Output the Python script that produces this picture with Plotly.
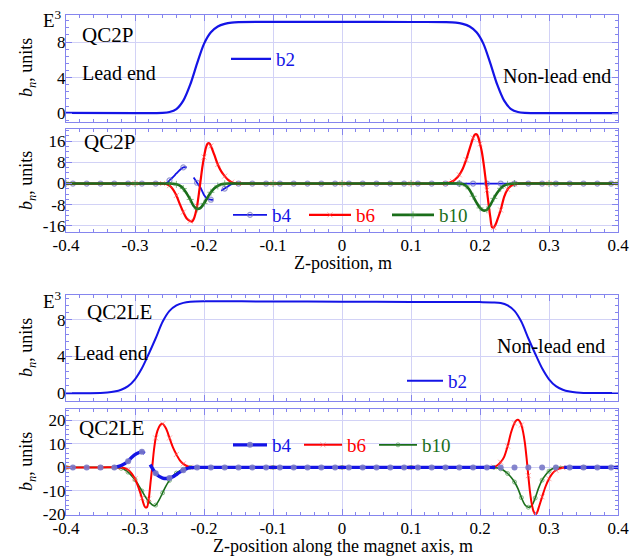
import plotly.graph_objects as go

# ---------------- data ----------------
# Panel 1: QC2P b2 (units x 1e3)
QC2P_B2_X = [-0.4, -0.3, -0.27, -0.26, -0.25, -0.24, -0.23, -0.22, -0.21, -0.2, -0.19, -0.18, -0.17,
             -0.16, -0.15, -0.1, 0.0, 0.1, 0.15, 0.165, 0.175, 0.185, 0.195, 0.205, 0.215, 0.225,
             0.235, 0.245, 0.255, 0.265, 0.275, 0.3, 0.4]
QC2P_B2_Y = [0.03, 0.0, 0.0, 0.02, 0.12, 0.45, 1.4, 3.2, 5.6, 7.8, 9.1, 9.75, 10.05,
             10.2, 10.25, 10.27, 10.27, 10.26, 10.25, 10.2, 10.05, 9.75, 9.1, 7.8, 5.6, 3.2,
             1.4, 0.45, 0.12, 0.02, 0.0, 0.0, 0.0]

# Panel 2: QC2P b4, b6, b10 (units)
QC2P_B4_X = [-0.39, -0.37, -0.35, -0.33, -0.31, -0.29, -0.27, -0.255, -0.25, -0.245, -0.24, -0.235,
             -0.23, -0.225, None, -0.215, -0.21, -0.205, -0.2, -0.195, -0.19, -0.187, None,
             -0.175, -0.17, -0.165, -0.16, -0.15, -0.13, -0.11, -0.09, -0.07, -0.05, -0.03, -0.01,
             0.01, 0.03, 0.05, 0.07, 0.09, 0.11, 0.13, 0.15, 0.17, 0.19, 0.21, 0.23, 0.25, 0.27,
             0.29, 0.31, 0.33, 0.35, 0.37, 0.39]
QC2P_B4_Y = [0, 0, 0, 0, 0, 0, 0, 0.0, 1.2, 2.4, 3.8, 5.1,
             6.1, 6.1, None, 2.3, 0.3, -1.6, -4.3, -5.7, -6.1, -6.2, None,
             -2.7, -1.9, -1.0, -0.2, 0, 0, 0, 0, 0, 0, 0, 0,
             0, 0, 0, 0, 0, 0, 0, 0, 0, 0, 0, 0, 0, 0,
             0, 0, 0, 0, 0, 0]

QC2P_B6_X = [-0.4, -0.3, -0.26, -0.255, -0.25, -0.245, -0.24, -0.235, -0.23, -0.225, -0.22, -0.2175,
             -0.215, -0.2125, -0.21, -0.2075, -0.205, -0.2025, -0.2, -0.1975, -0.195, -0.1925, -0.19,
             -0.185, -0.18, -0.175, -0.17, -0.165, -0.16, -0.155, -0.15, -0.1, 0.0, 0.1, 0.15, 0.155,
             0.16, 0.165, 0.17, 0.175, 0.18, 0.185, 0.19, 0.1925, 0.195, 0.1975, 0.2, 0.2025, 0.205,
             0.2075, 0.21, 0.2125, 0.215, 0.2175, 0.22, 0.2225, 0.225, 0.23, 0.235, 0.24, 0.245, 0.25,
             0.255, 0.3, 0.4]
QC2P_B6_Y = [0, 0, 0, -0.2, -0.8, -2.2, -4.5, -7.8, -10.8, -13.2, -14.2, -14.4,
             -13.5, -11.5, -8.5, -4.0, 1.0, 6.0, 10.0, 13.3, 15.0, 15.2, 14.2,
             10.8, 7.2, 4.6, 2.8, 1.4, 0.5, 0.1, 0, 0, 0, 0, 0, 0.3,
             0.8, 1.8, 3.3, 5.6, 9.0, 13.2, 17.2, 18.5, 18.6, 17.5, 15.0, 12.2, 8.0,
             3.0, -2.5, -8.0, -12.8, -16.5, -16.6, -15.5, -13.8, -10.0, -5.0, -2.2, -0.9, -0.2,
             0, 0, 0]

QC2P_B10_X = [-0.4, -0.3, -0.25, -0.245, -0.24, -0.235, -0.23, -0.225, -0.22, -0.215, -0.21, -0.205,
              -0.2, -0.195, -0.19, -0.185, -0.18, -0.175, -0.17, -0.165, -0.1, 0.0, 0.1, 0.17, 0.175,
              0.18, 0.185, 0.19, 0.195, 0.2, 0.205, 0.21, 0.215, 0.22, 0.225, 0.23, 0.235, 0.24,
              0.245, 0.25, 0.3, 0.4]
QC2P_B10_Y = [0, 0, 0, -0.1, -0.3, -0.8, -1.9, -3.8, -6.0, -8.5, -9.6, -9.2,
              -7.5, -5.3, -3.3, -1.8, -0.9, -0.3, -0.1, 0, 0, 0, 0, 0, -0.2,
              -0.9, -2.4, -4.8, -7.2, -9.2, -10.2, -9.9, -8.1, -5.6, -3.5, -1.8, -0.8, -0.3,
              -0.1, 0, 0, 0]

# Panel 3: QC2LE b2 (units x 1e3)
QC2LE_B2_X = [-0.4, -0.35, -0.34, -0.33, -0.32, -0.31, -0.3, -0.29, -0.28, -0.27, -0.26, -0.25, -0.24,
              -0.23, -0.22, -0.2, -0.1, 0.0, 0.1, 0.2, 0.22, 0.23, 0.24, 0.25, 0.26, 0.27, 0.28, 0.29,
              0.3, 0.31, 0.32, 0.33, 0.34, 0.35, 0.4]
QC2LE_B2_Y = [-0.02, 0.0, 0.05, 0.15, 0.35, 0.75, 1.5, 2.7, 4.3, 6.0, 7.8, 9.0, 9.6,
              9.88, 10.0, 10.05, 10.03, 10.0, 9.98, 9.96, 9.93, 9.86, 9.6, 9.0, 7.8, 6.0, 4.3, 2.7,
              1.5, 0.75, 0.35, 0.15, 0.05, 0.0, 0.0]

# Panel 4: QC2LE b4, b6, b10 (units); None = break in the b4 line
QC2LE_B4_X = [-0.39, None, -0.37, None, -0.35, None, -0.33, -0.32, -0.31, -0.305, -0.298, -0.29,
              -0.286, None, -0.278, -0.27, -0.265, -0.26, -0.255, -0.25, -0.245, -0.24, -0.235,
              -0.23, -0.225, -0.22, -0.21, -0.19, -0.17, -0.15, -0.13, -0.11, -0.09, -0.07, -0.05,
              -0.03, -0.01, 0.01, 0.03, 0.05, 0.07, 0.09, 0.11, 0.13, 0.15, 0.17, 0.19, 0.21, 0.222,
              None, 0.23, None, 0.25, None, 0.27, None, 0.29, None, 0.31, None, 0.322, 0.33, 0.35,
              0.37, 0.39, 0.4]
QC2LE_B4_Y = [0, None, 0, None, 0, None, 0, 0.8, 2.6, 4.2, 5.8, 6.6,
              6.0, None, 1.2, -2.5, -3.8, -4.5, -4.7, -4.5, -4.0, -3.0, -2.0,
              -1.2, -0.5, -0.1, 0, 0, 0, 0, 0, 0, 0, 0, 0,
              0, 0, 0, 0, 0, 0, 0, 0, 0, 0, 0, 0, 0, 0,
              None, 0, None, 0, None, 0, None, 0, None, 0, None, 0, 0, 0,
              0, 0, 0]

QC2LE_B6_X = [-0.4, -0.35, -0.32, -0.315, -0.31, -0.305, -0.3, -0.295, -0.29, -0.2875, -0.285,
              -0.2825, -0.28, -0.2775, -0.275, -0.2725, -0.27, -0.2675, -0.265, -0.2625, -0.26,
              -0.255, -0.25, -0.245, -0.24, -0.235, -0.23, -0.225, -0.22, -0.215, -0.1, 0.0, 0.1,
              0.215, 0.22, 0.225, 0.23, 0.235, 0.24, 0.245, 0.25, 0.2525, 0.255, 0.2575, 0.26,
              0.2625, 0.265, 0.2675, 0.27, 0.2725, 0.275, 0.2775, 0.28, 0.2825, 0.285, 0.29, 0.295,
              0.3, 0.305, 0.31, 0.315, 0.32, 0.325, 0.35, 0.4]
QC2LE_B6_Y = [0, 0, 0, -0.3, -1.0, -2.5, -4.8, -8.5, -13.0, -15.5, -17.0,
              -16.8, -13.3, -6.5, 0.3, 7.5, 12.5, 15.5, 17.3, 18.3, 18.5,
              16.5, 12.5, 8.5, 5.5, 3.0, 1.5, 0.6, 0.1, 0, 0, 0, 0,
              0, 0.2, 0.8, 2.2, 4.5, 9.0, 14.8, 18.8, 19.9, 20.2, 19.6, 18.0,
              15.0, 10.5, 4.0, -3.5, -10.5, -15.5, -18.6, -19.9, -19.3, -17.2, -12.5, -8.1,
              -4.8, -2.5, -1.2, -0.5, -0.1, 0, 0, 0]

QC2LE_B10_X = [-0.4, -0.35, -0.33, -0.325, -0.32, -0.315, -0.31, -0.305, -0.3, -0.295, -0.29, -0.285,
               -0.28, -0.275, -0.2725, -0.27, -0.265, -0.26, -0.255, -0.25, -0.245, -0.24, -0.235,
               -0.23, -0.225, -0.22, -0.1, 0.0, 0.1, 0.22, 0.225, 0.23, 0.235, 0.24, 0.245, 0.25,
               0.255, 0.26, 0.265, 0.27, 0.275, 0.28, 0.285, 0.29, 0.295, 0.3, 0.305, 0.31, 0.315,
               0.35, 0.4]
QC2LE_B10_Y = [0, 0, 0, -0.1, -0.4, -1.0, -2.0, -3.5, -5.2, -7.5, -10.0, -12.5,
               -14.5, -15.9, -16.3, -16.0, -13.8, -10.8, -7.8, -5.5, -3.6, -2.4, -1.5,
               -0.8, -0.3, 0, 0, 0, 0, 0, -0.2, -0.6, -1.4, -2.6, -4.2, -6.2,
               -9.0, -12.8, -15.8, -16.9, -16.2, -13.0, -8.7, -5.4, -3.2, -1.6, -0.6, -0.1, 0,
               0, 0]

X_TICKS = [-0.4, -0.3, -0.2, -0.1, 0.0, 0.1, 0.2, 0.3, 0.4]
X_TICK_TEXT = ["-0.4", "-0.3", "-0.2", "-0.1", "0", "0.1", "0.2", "0.3", "0.4"]
B2_TICKS = [0, 4, 8]
B2_TICK_TEXT = ["0", "4", "8"]
P2_TICKS = [-16, -8, 0, 8, 16]
P2_TICK_TEXT = ["-16", "-8", "0", "8", "16"]
P4_TICKS = [-20, -10, 0, 10, 20]
P4_TICK_TEXT = ["-20", "-10", "0", "10", "20"]

# ---------------- styling ----------------
# The page body has an 8 px margin, so the figure is drawn 8 px in from the top-left corner.
OFF = 8
W, H = 639 - OFF, 558 - OFF
SERIF = "Liberation Serif"
AX = "#8585ee"
GRID = "#d2d2f6"
BLUE = "#1414e6"
RED = "#ff0000"
GREEN = "#1a6e1a"
MARK_BLUE = "rgba(110,110,190,0.7)"
CLEAR = "rgba(0,0,0,0)"


def px(xp):
    return (xp - OFF) / W


def py(yp):
    return 1 - (yp - OFF) / H


def on_grid(x, step, offset):
    if x is None:
        return False
    k = (x - offset) / step
    return abs(k - round(k)) < 1e-6


def mark_colors(xs, step, offset, color):
    return [color if on_grid(x, step, offset) else CLEAR for x in xs]


X_DOM = [px(66), px(618)]
DOMS = {
    1: [py(122), py(15)],
    2: [py(232), py(129)],
    3: [py(401), py(295)],
    4: [py(515), py(409)],
}
YRANGES = {1: [-1.0, 11.05], 2: [-18.3, 20.6], 3: [-0.88, 10.74], 4: [-20.2, 24.8]}

fig = go.Figure()


def ax_name(i, kind):
    return kind if i == 1 else f"{kind}{i}"


# panel 1
fig.add_trace(go.Scatter(x=QC2P_B2_X, y=QC2P_B2_Y, mode="lines", name="b2",
                         line=dict(color=BLUE, width=2.2, shape="spline", smoothing=0.8),
                         xaxis="x", yaxis="y", legend="legend"))
# panel 2
fig.add_trace(go.Scatter(x=QC2P_B4_X, y=QC2P_B4_Y, mode="lines+markers", name="b4",
                         line=dict(color=BLUE, width=1.8, shape="spline", smoothing=0.8),
                         marker=dict(symbol="circle-open", size=5,
                                     color=mark_colors(QC2P_B4_X, 0.02, -0.39, MARK_BLUE),
                                     line=dict(width=1.2)),
                         connectgaps=False, xaxis="x2", yaxis="y2", legend="legend2"))
fig.add_trace(go.Scatter(x=QC2P_B6_X, y=QC2P_B6_Y, mode="lines+markers", name="b6",
                         line=dict(color=RED, width=2.2, shape="spline", smoothing=0.8),
                         marker=dict(symbol="x-thin-open", size=5,
                                     color=mark_colors(QC2P_B6_X, 0.01, 0.0, "rgba(255,90,90,0.55)"),
                                     line=dict(width=1)),
                         xaxis="x2", yaxis="y2", legend="legend3"))
fig.add_trace(go.Scatter(x=QC2P_B10_X, y=QC2P_B10_Y, mode="lines+markers", name="b10",
                         line=dict(color=GREEN, width=2.6, shape="spline", smoothing=0.8),
                         marker=dict(symbol="cross-thin-open", size=5,
                                     color=mark_colors(QC2P_B10_X, 0.01, 0.0, "rgba(60,140,60,0.6)"),
                                     line=dict(width=1)),
                         xaxis="x2", yaxis="y2", legend="legend4"))
# panel 3
fig.add_trace(go.Scatter(x=QC2LE_B2_X, y=QC2LE_B2_Y, mode="lines", name="b2",
                         line=dict(color=BLUE, width=2.0, shape="spline", smoothing=0.8),
                         xaxis="x3", yaxis="y3", legend="legend5"))
# panel 4
fig.add_trace(go.Scatter(x=QC2LE_B10_X, y=QC2LE_B10_Y, mode="lines+markers", name="b10",
                         line=dict(color=GREEN, width=1.6, shape="spline", smoothing=0.8),
                         marker=dict(symbol="circle-open", size=4,
                                     color=mark_colors(QC2LE_B10_X, 0.01, 0.0, "rgba(60,140,60,0.6)"),
                                     line=dict(width=1)),
                         xaxis="x4", yaxis="y4", legend="legend8"))
fig.add_trace(go.Scatter(x=QC2LE_B6_X, y=QC2LE_B6_Y, mode="lines+markers", name="b6",
                         line=dict(color=RED, width=2.0, shape="spline", smoothing=0.8),
                         marker=dict(symbol="x-thin-open", size=5,
                                     color=mark_colors(QC2LE_B6_X, 0.01, 0.0, "rgba(255,90,90,0.55)"),
                                     line=dict(width=1)),
                         xaxis="x4", yaxis="y4", legend="legend7"))
fig.add_trace(go.Scatter(x=QC2LE_B4_X, y=QC2LE_B4_Y, mode="lines+markers", name="b4",
                         line=dict(color=BLUE, width=3.4, shape="spline", smoothing=0.8),
                         marker=dict(symbol="circle", size=6,
                                     color=mark_colors(QC2LE_B4_X, 0.02, -0.39, "rgba(120,120,200,0.9)"),
                                     line=dict(width=1, color=CLEAR)),
                         connectgaps=False, xaxis="x4", yaxis="y4", legend="legend6"))

tickfont = dict(family=SERIF, size=17, color="black")

for i in (1, 2, 3, 4):
    xa = dict(domain=X_DOM, range=[-0.4, 0.4], anchor=ax_name(i, "y"),
              tickmode="array", tickvals=X_TICKS, ticktext=X_TICK_TEXT,
              showticklabels=(i in (2, 4)), tickfont=tickfont, ticklabelstandoff=-3,
              ticks="inside", ticklen=6, tickcolor=AX, tickwidth=1,
              showline=True, linecolor=AX, linewidth=1.2, mirror="allticks",
              showgrid=True, gridcolor=GRID, gridwidth=1, zeroline=False,
              minor=dict(dtick=0.02, tick0=0, ticks="inside", ticklen=3, tickcolor=AX,
                         showgrid=False))
    if i in (1, 3):
        yt, ytt, mdt = B2_TICKS, B2_TICK_TEXT, 0.8
    elif i == 2:
        yt, ytt, mdt = P2_TICKS, P2_TICK_TEXT, 2
    else:
        yt, ytt, mdt = P4_TICKS, P4_TICK_TEXT, 2
    ya = dict(domain=DOMS[i], range=YRANGES[i], anchor=ax_name(i, "x"),
              tickmode="array", tickvals=yt, ticktext=ytt, tickfont=tickfont,
              ticklabelstandoff=-4,
              ticks="inside", ticklen=6, tickcolor=AX, tickwidth=1,
              showline=True, linecolor=AX, linewidth=1.2, mirror="allticks",
              showgrid=True, gridcolor=GRID, gridwidth=1, zeroline=False,
              minor=dict(dtick=mdt, tick0=0, ticks="inside", ticklen=3, tickcolor=AX,
                         showgrid=False))
    fig.layout[ax_name(i, "xaxis")] = xa
    fig.layout[ax_name(i, "yaxis")] = ya


def legend_at(xp, yp, color, iw):
    return dict(x=px(xp), y=py(yp), xanchor="left", yanchor="middle",
                bgcolor=CLEAR, borderwidth=0, itemwidth=iw,
                font=dict(family=SERIF, size=19, color=color), orientation="h")


fig.update_layout(
    width=W, height=H, margin=dict(l=0, r=0, t=0, b=0, autoexpand=False),
    paper_bgcolor="white", plot_bgcolor="white", showlegend=True,
    font=dict(family=SERIF, size=17, color="black"),
    legend=legend_at(226, 59, BLUE, 40),
    legend2=legend_at(228, 215, BLUE, 34),
    legend3=legend_at(304, 215, RED, 42),
    legend4=legend_at(387, 215, GREEN, 42),
    legend5=legend_at(402, 381, BLUE, 36),
    legend6=legend_at(228, 445, BLUE, 34),
    legend7=legend_at(299, 445, RED, 38),
    legend8=legend_at(374, 445, GREEN, 38),
)

ann = []


def text(xp, yp, s, size=19, anchor="left", angle=0, yanchor="middle"):
    ann.append(dict(x=px(xp), y=py(yp), xref="paper", yref="paper", text=s, showarrow=False,
                    xanchor=anchor, yanchor=yanchor, textangle=angle,
                    font=dict(family=SERIF, size=size, color="black")))


text(80, 35, "QC2P", 21)
text(80, 73, "Lead end", 20)
text(501, 76, "Non-lead end", 20)
text(82, 142, "QC2P", 21)
text(85, 312, "QC2LE", 21)
text(72, 353, "Lead end", 20)
text(495, 346, "Non-lead end", 20)
text(77, 428, "QC2LE", 21)
text(64, 19, "E<sup>3</sup>", 19, anchor="right")
text(64, 300, "E<sup>3</sup>", 19, anchor="right")
ytitle = "<i>b</i><sub><i>n</i></sub>, units"
for yc in (68, 181, 348, 462):
    text(27, yc, ytitle, 18, anchor="center", angle=-90)
text(343, 263, "Z-position, m", 18, anchor="center")
text(343, 546, "Z-position along the magnet axis, m", 18, anchor="center")
fig.update_layout(annotations=ann)

fig.write_html("out.html")
